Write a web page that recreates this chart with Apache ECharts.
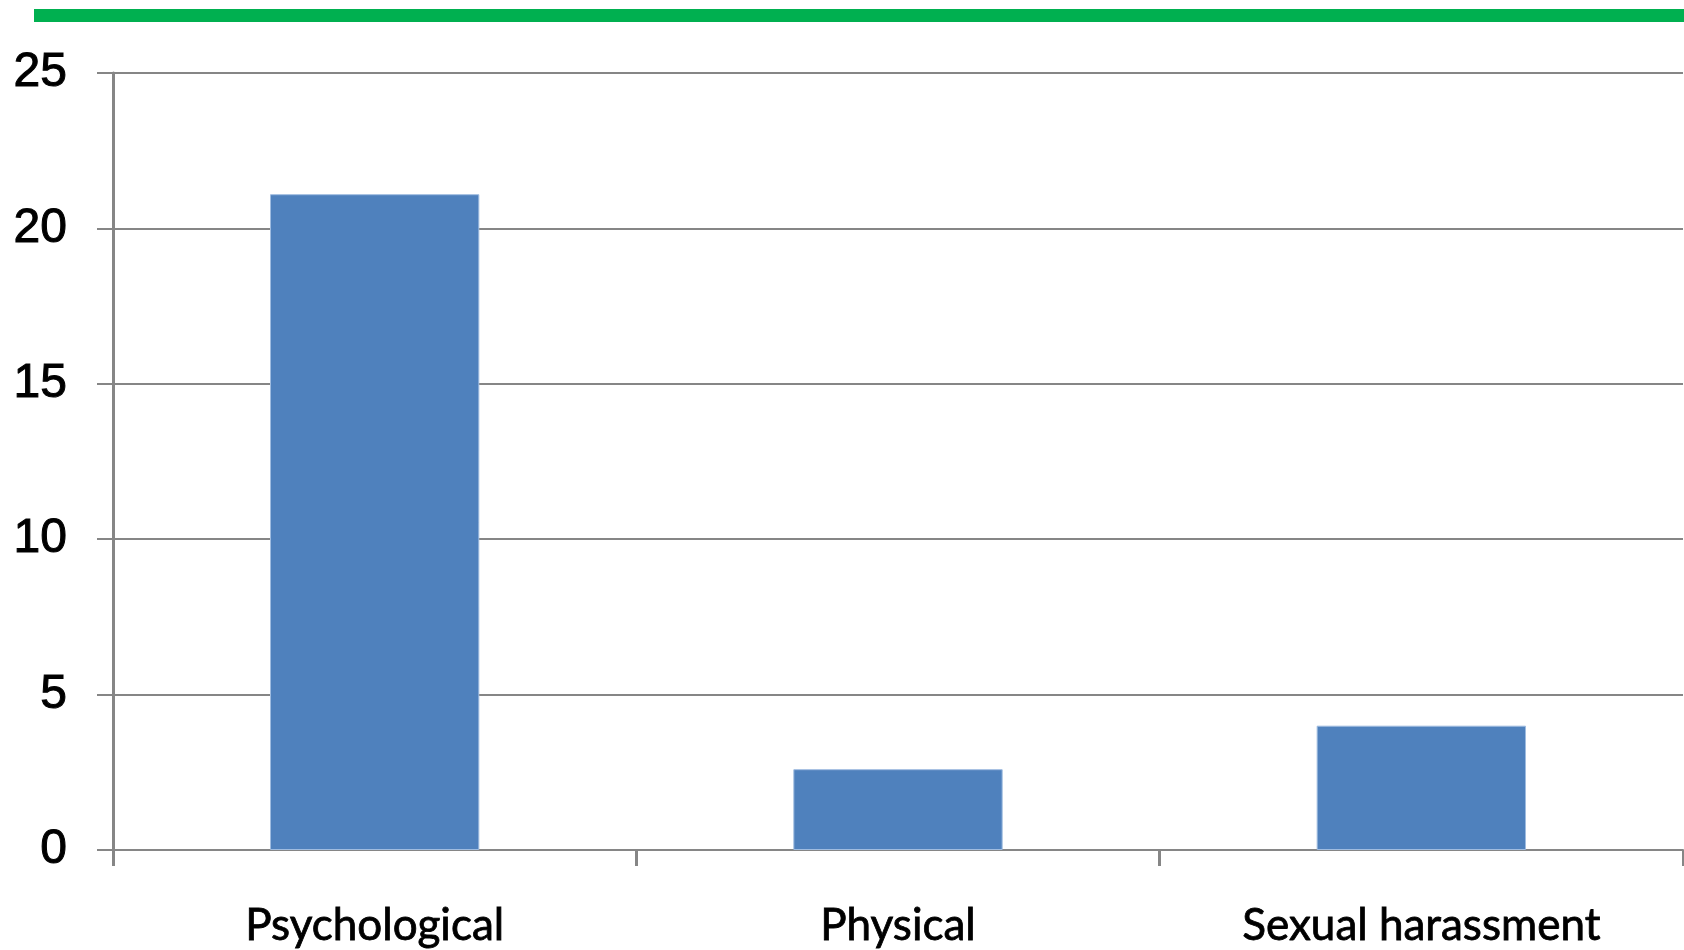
<!DOCTYPE html>
<html>
<head>
<meta charset="utf-8">
<script src="https://cdn.jsdelivr.net/npm/echarts@6/dist/echarts.min.js"></script>
<style>
html,body{margin:0;padding:0;background:#fff;}
#chart{width:1684px;height:950px;}
</style>
</head>
<body>
<div id="chart"></div>
<script>
const categories = ['Psychological', 'Physical', 'Sexual harassment'];
const values = [21.1, 2.6, 4.0];
const yMin = 0, yMax = 25, yInterval = 5;

const chart = echarts.init(document.getElementById('chart'), null, {renderer: 'canvas'});
chart.setOption({
  animation: false,
  backgroundColor: '#ffffff',
  graphic: [{
    type: 'rect',
    shape: {x: 34, y: 9, width: 1650, height: 13},
    style: {fill: '#00B050'}
  }],
  grid: {left: 113, right: 1, top: 73, bottom: 100, containLabel: false},
  xAxis: {
    type: 'category',
    data: categories,
    boundaryGap: true,
    axisLine: {show: true, lineStyle: {color: '#868686', width: 2}},
    axisTick: {show: true, length: 16, lineStyle: {color: '#868686', width: 3}},
    axisLabel: {
      margin: 54,
      color: '#000',
      fontFamily: 'Lato, "Open Sans", sans-serif',
      fontSize: 44,
      textBorderColor: '#000',
      textBorderWidth: 0.8
    },
    splitLine: {show: false}
  },
  yAxis: {
    type: 'value',
    min: yMin, max: yMax, interval: yInterval,
    axisLine: {show: true, lineStyle: {color: '#868686', width: 3}},
    axisTick: {show: true, length: 16, lineStyle: {color: '#868686', width: 2}},
    axisLabel: {
      margin: 46,
      color: '#000',
      fontFamily: '"Liberation Sans", Arial, sans-serif',
      fontSize: 48,
      textBorderColor: '#000',
      textBorderWidth: 1
    },
    splitLine: {show: true, lineStyle: {color: '#868686', width: 2}}
  },
  series: [{
    type: 'bar',
    data: values,
    barWidth: '40%',
    itemStyle: {color: '#4F81BD', borderColor: '#9FBCE0', borderWidth: 1}
  }]
});
</script>
</body>
</html>
